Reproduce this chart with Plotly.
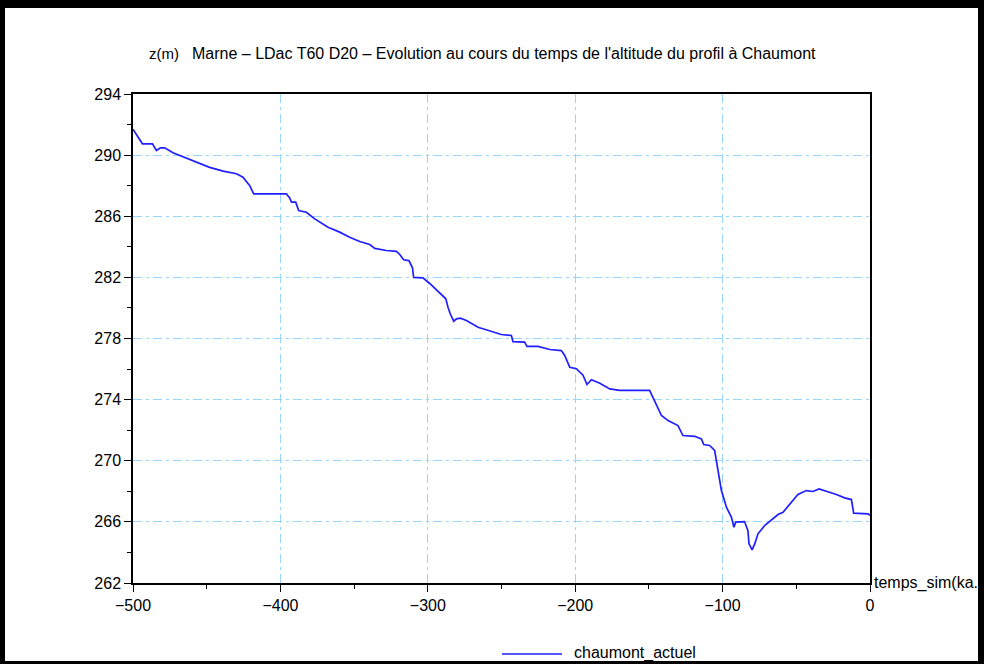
import plotly.graph_objects as go

# time (ka, simulated) and profile altitude at Chaumont (m)
temps_ka = [
    -500, -493.6, -486.8, -484.1, -481.4, -478.5, -472.9, -462.7, -454.7, -448,
    -438.9, -429.8, -425.4, -420.8, -418.1, -396, -393.7, -392.5, -389.6, -387.6,
    -382.4, -376.7, -367.7, -359.8, -353, -346.2, -339.4, -336, -328.1, -321.3,
    -319, -316.4, -312.8, -310.4, -309.6, -303.3, -298.7, -291.9, -287.8, -286.3,
    -284.7, -282.4, -280.6, -277.9, -273.8, -265.9, -256.9, -250.1, -243.3, -242.2,
    -234.3, -232.7, -225.2, -217.3, -209.4, -207.1, -203.7, -199.2, -194.7, -192,
    -189, -183.3, -176.6, -169.8, -149.5, -146.1, -141.5, -137, -130.3, -126.9,
    -118.9, -114.4, -112.8, -108.8, -105.4, -103.1, -100.8, -97.4, -94, -92.3,
    -91.1, -85.1, -82.8, -82.1, -80.0, -78.2, -76, -71.5, -62.4, -59,
    -54.5, -48.9, -43.2, -38.7, -34.6, -27.3, -22.8, -17.2, -12.6, -11.1,
    -1.4, 0,
]
z_chaumont = [
    291.7, 290.74, 290.74, 290.3, 290.48, 290.48, 290.15, 289.76, 289.47, 289.2,
    288.95, 288.78, 288.56, 288.0, 287.47, 287.47, 287.2, 286.92, 286.92, 286.37,
    286.26, 285.83, 285.28, 284.96, 284.63, 284.35, 284.15, 283.9, 283.76, 283.7,
    283.5, 283.15, 283.1, 282.63, 282.0, 281.97, 281.6, 280.95, 280.6, 280.05,
    279.6, 279.13, 279.29, 279.33, 279.18, 278.74, 278.46, 278.26, 278.2, 277.8,
    277.76, 277.48, 277.48, 277.28, 277.21, 276.89, 276.12, 276.02, 275.6, 274.99,
    275.3, 275.07, 274.7, 274.6, 274.6, 273.94, 272.96, 272.63, 272.3, 271.65,
    271.6, 271.43, 271.06, 271.0, 270.67, 269.36, 268.05, 266.96, 266.3, 265.65,
    265.98, 266.02, 265.43, 264.56, 264.17, 264.56, 265.22, 265.76, 266.48, 266.63,
    267.18, 267.79, 268.05, 267.99, 268.16, 267.94, 267.79, 267.57, 267.46, 266.57,
    266.53, 266.42,
]

x_ticks = [-500, -400, -300, -200, -100, 0]
y_ticks = [262, 266, 270, 274, 278, 282, 286, 290, 294]

W, H = 984, 664
L, R, T, B = 133, 114, 94, 81
pw, ph = W - L - R, H - T - B


def px(x):
    return (x - L) / pw


def py(y):
    return (H - B - y) / ph


FONT = "Liberation Sans, Arial, sans-serif"
GRID = "#99d6ff"
LINE = "#1f1fff"

fig = go.Figure()
fig.add_trace(go.Scatter(
    x=temps_ka, y=z_chaumont, mode="lines", name="chaumont_actuel",
    line=dict(color=LINE, width=1.7), showlegend=False,
))

axis_common = dict(
    showline=True, linecolor="black", linewidth=1.5, mirror=True,
    ticks="outside", ticklen=7, tickwidth=1.3, tickcolor="black",
    showgrid=True, gridcolor=GRID, griddash="9px,4px,3px,4px", gridwidth=1,
    zeroline=False, tickfont=dict(family=FONT, size=16, color="black"),
)
fig.update_xaxes(range=[-500, 0], tickvals=x_ticks,
                 ticktext=[("\u2212" + str(-v)) if v < 0 else str(v) for v in x_ticks],
                 minor=dict(dtick=50, ticks="outside", ticklen=4, tickcolor="black", showgrid=False),
                 **axis_common)
fig.update_yaxes(range=[262, 294], tickvals=y_ticks,
                 minor=dict(dtick=2, ticks="outside", ticklen=4, tickcolor="black", showgrid=False),
                 **axis_common)

# black frame around the picture
frame = [(0, 0, W, 8), (0, 0, 5, H), (W - 6, 0, W, H), (0, H - 3, W, H)]
for x0, y0, x1, y1 in frame:
    fig.add_shape(type="rect", xref="paper", yref="paper",
                  x0=px(x0), x1=px(x1), y0=py(y1), y1=py(y0),
                  fillcolor="black", line_width=0, layer="above")

# legend drawn by hand (long line sample under the plot)
fig.add_shape(type="line", xref="paper", yref="paper",
              x0=px(502), x1=px(562), y0=py(654), y1=py(654),
              line=dict(color=LINE, width=1.7))
fig.add_annotation(text="chaumont_actuel", xref="paper", yref="paper", x=px(572), y=py(653),
                   xanchor="left", yanchor="middle", showarrow=False,
                   font=dict(family=FONT, size=16, color="black"))

fig.add_annotation(text="z(m)", xref="paper", yref="paper", x=px(147), y=py(54),
                   xanchor="left", yanchor="middle", showarrow=False,
                   font=dict(family=FONT, size=15, color="black"))
fig.add_annotation(text="Marne \u2013 LDac T60 D20 \u2013 Evolution au cours du temps de l'altitude du profil \u00e0 Chaumont",
                   xref="paper", yref="paper", x=px(190), y=py(54),
                   xanchor="left", yanchor="middle", showarrow=False,
                   font=dict(family=FONT, size=16, color="black"))
fig.add_annotation(text="temps_sim(ka.)", xref="paper", yref="paper", x=1, y=0,
                   xanchor="left", yanchor="middle", xshift=2, showarrow=False,
                   font=dict(family=FONT, size=16, color="black"))

fig.update_layout(
    width=W, height=H,
    margin=dict(l=L, r=R, t=T, b=B, autoexpand=False),
    paper_bgcolor="white", plot_bgcolor="white",
    showlegend=False,
)

fig.write_html("out.html", config={"displayModeBar": False},
               post_script="document.body.style.margin='0';")
